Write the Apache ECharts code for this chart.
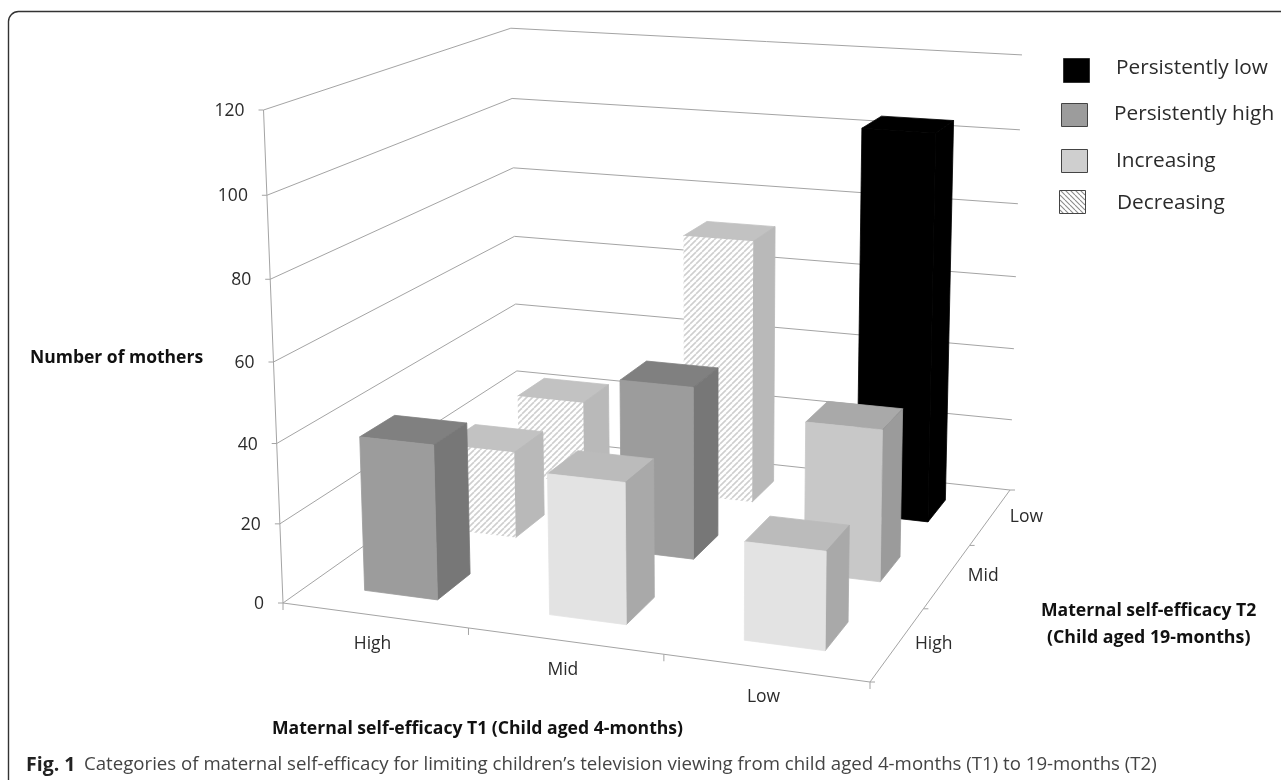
<!DOCTYPE html>
<html>
<head>
<meta charset="utf-8">
<style>html,body{margin:0;padding:0;background:#fff}#c{width:1281px;height:780px;filter:blur(0.4px)}</style>
<script src="https://cdn.jsdelivr.net/npm/echarts@6/dist/echarts.min.js"></script>
</head>
<body>
<div id="c"></div>
<script>
// ---- data: [T1 index, T2 index, number of mothers] ----
const t1Labels = ['High', 'Mid', 'Low'];
const t2Labels = ['High', 'Mid', 'Low'];
const yTicks = [0, 20, 40, 60, 80, 100, 120];
const persistentlyLow = [[2, 2, 104]];
const persistentlyHigh = [[0, 0, 39], [1, 1, 45]];
const increasing = [[1, 0, 35], [2, 0, 24], [2, 1, 39]];
const decreasing = [[0, 1, 23], [0, 2, 23], [1, 2, 72]];
const legendNames = ['Persistently low', 'Persistently high', 'Increasing', 'Decreasing'];
const yTitle = 'Number of mothers';
const t1Title = 'Maternal self-efficacy T1 (Child aged 4-months)';
const t2Title = ['Maternal self-efficacy T2', '(Child aged 19-months)'];
const captionBold = 'Fig. 1';
const captionText = 'Categories of maternal self-efficacy for limiting children\u2019s television viewing from child aged 4-months (T1) to 19-months (T2)';

// ---- perspective camera: floor corners on screen + vertical vector ----
const FL = [283, 603], FR = [870, 682], BR = [1010, 490], BL = [518, 437];
const VERT = [-31, -497.8, -0.0437];
const dx1 = FR[0] - BR[0], dy1 = FR[1] - BR[1], dx2 = BL[0] - BR[0], dy2 = BL[1] - BR[1];
const sx = FL[0] - FR[0] + BR[0] - BL[0], sy = FL[1] - FR[1] + BR[1] - BL[1];
const den = dx1 * dy2 - dx2 * dy1;
const pg = (sx * dy2 - dx2 * sy) / den, ph = (dx1 * sy - sx * dy1) / den;
const pa = FR[0] - FL[0] + pg * FR[0], pb = BL[0] - FL[0] + ph * BL[0];
const pd = FR[1] - FL[1] + pg * FR[1], pe = BL[1] - FL[1] + ph * BL[1];
const CELLS = t1Labels.length;

function heightOf(api, value) {
  const y0 = api.coord([0, 0])[1], y1 = api.coord([0, yTicks[yTicks.length - 1]])[1];
  return (y0 - api.coord([0, value])[1]) / (y0 - y1);
}
function project(U, V, H) {
  const u = U / CELLS, v = V / CELLS;
  const w = pg * u + ph * v + 1 + VERT[2] * H;
  return [(pa * u + pb * v + FL[0] + VERT[0] * H) / w, (pd * u + pe * v + FL[1] + VERT[1] * H) / w];
}

// ---- hatch patterns ----
function hatch(color, dir, size, lw) {
  const c = document.createElement('canvas');
  c.width = c.height = size;
  const g = c.getContext('2d');
  g.fillStyle = '#fff'; g.fillRect(0, 0, size, size);
  g.strokeStyle = color; g.lineWidth = lw;
  for (let k = -size; k <= size * 2; k += size) {
    g.beginPath();
    if (dir > 0) { g.moveTo(k, size); g.lineTo(k + size, 0); }
    else { g.moveTo(k, 0); g.lineTo(k + size, size); }
    g.stroke();
  }
  return { image: c, repeat: 'repeat' };
}
const hatchFront = hatch('#cfcfcf', 1, 6, 1.6);
const hatchLegend = hatch('#8a8a8a', -1, 5, 1.1);

const FONT = '"Open Sans","Noto Sans",sans-serif';
const LABEL_COLOR = '#2b2b2b';
const GRID_COLOR = '#a4a4a4';

// faces per legend entry, by T2 row for the two-tone "Increasing"
const faces = {
  low: () => ({ front: '#000000', side: '#000000', top: '#000000' }),
  high: () => ({ front: '#9c9c9c', side: '#777777', top: '#808080' }),
  inc: (V) => V === 0 ? { front: '#e3e3e3', side: '#a9a9a9', top: '#bbbbbb' }
                      : { front: '#c8c8c8', side: '#9b9b9b', top: '#a9a9a9' },
  dec: () => ({ front: hatchFront, side: '#b9b9b9', top: '#c2c2c2' })
};

function barRenderer(kind) {
  return function (params, api) {
    const i = api.value(0), j = api.value(1), H = heightOf(api, api.value(2));
    const c = faces[kind](j);
    const L = i + 0.3, R = i + 0.7, F = j + 0.3, B = j + 0.7;
    const z = 100 + (CELLS - j) * 10;
    const poly = (pts, fill, dz) => ({
      type: 'polygon', z2: z + dz,
      shape: { points: pts },
      style: typeof fill === 'string' ? { fill, stroke: fill, lineWidth: 0.8 } : { fill }
    });
    return {
      type: 'group',
      children: [
        poly([project(L, B, H), project(R, B, H), project(R, F, H), project(L, F, H)], c.top, 1),
        poly([project(R, F, 0), project(R, B, 0), project(R, B, H), project(R, F, H)], c.side, 1),
        poly([project(L, F, 0), project(R, F, 0), project(R, F, H), project(L, F, H)], c.front, 2)
      ]
    };
  };
}

function line(a, b, color, width) {
  return { type: 'line', z2: 5, shape: { x1: a[0], y1: a[1], x2: b[0], y2: b[1] },
           style: { stroke: color || GRID_COLOR, lineWidth: width || 1 } };
}
function txt(str, x, y, align, font, color) {
  return { type: 'text', z2: 6, style: { text: str, x, y, textAlign: align, textVerticalAlign: 'middle',
           font: font || ('17.5px ' + FONT), fill: color || LABEL_COLOR } };
}

function renderGrid(params, api) {
  const value = api.value(2), H = heightOf(api, value);
  const a = project(0, 0, H), b = project(0, CELLS, H), c = project(CELLS, CELLS, H);
  const kids = [
    { type: 'polyline', z2: 5, shape: { points: [a, b, c] }, style: { stroke: GRID_COLOR, lineWidth: 1, fill: 'none' } },
    line([a[0] - 5, a[1]], a),
    txt(String(value), a[0] - 19, a[1] + 1, 'right')
  ];
  if (params.dataIndex === 0) kids.push(line(a, project(0, 0, 1)));
  return { type: 'group', children: kids };
}
function renderT1(params, api) {
  const U = api.value(0), a = project(U, 0, 0);
  const kids = [line(a, [a[0], a[1] + 7])];
  if (U < CELLS) {
    kids.push(line(a, project(U + 1, 0, 0)));
    const m = project(U + 0.5, 0, 0);
    kids.push(txt(t1Labels[U], m[0] - 2, m[1] + 29, 'center'));
  }
  return { type: 'group', children: kids };
}
function renderT2(params, api) {
  const V = api.value(1), a = project(CELLS, V, 0);
  const kids = [line(a, [a[0] + 5, a[1]])];
  if (V < CELLS) {
    kids.push(line(a, project(CELLS, V + 1, 0)));
    const m = project(CELLS, V + 0.5, 0);
    kids.push(txt(t2Labels[V], m[0] + 36, m[1], 'center'));
  }
  return { type: 'group', children: kids };
}

function customSeries(name, data, renderItem) {
  return { type: 'custom', name, data, renderItem, silent: true, clip: false,
           encode: { x: 0, y: 2 }, animation: false };
}

const boundaries = [0, 1, 2, 3];
const legendY = [
  { name: legendNames[0], box: [1063, 58, 26, 24], tx: 1116, ty: 68, fill: '#000000', stroke: '#333' },
  { name: legendNames[1], box: [1061, 103, 26, 23], tx: 1114, ty: 114, fill: '#9c9c9c', stroke: '#444' },
  { name: legendNames[2], box: [1061, 149, 26, 23], tx: 1116, ty: 161, fill: '#cfcfcf', stroke: '#444' },
  { name: legendNames[3], box: [1059, 190, 26, 23], tx: 1117, ty: 203, fill: hatchLegend, stroke: '#444' }
];

const graphics = [
  { type: 'rect', silent: true, shape: { x: 8.5, y: 11.5, width: 1500, height: 1200, r: [10, 0, 0, 0] },
    style: { fill: 'none', stroke: '#333', lineWidth: 1.4 } }
];
legendY.forEach(l => {
  graphics.push({ type: 'rect', silent: true, shape: { x: l.box[0] + 0.5, y: l.box[1] + 0.5, width: l.box[2], height: l.box[3] },
    style: { fill: l.fill, stroke: l.stroke, lineWidth: 1 } });
  graphics.push({ type: 'text', silent: true, style: { text: l.name, x: l.tx, y: l.ty, textVerticalAlign: 'middle',
    font: '20.8px ' + FONT, fill: LABEL_COLOR } });
});
[[yTitle, 30, 358, 17.5], [t1Title, 272, 729, 17.6], [t2Title[0], 1041, 611, 17.6], [t2Title[1], 1047, 638, 17.8]].forEach(t => {
  graphics.push({ type: 'text', silent: true, style: { text: t[0], x: t[1], y: t[2], textVerticalAlign: 'middle',
    font: 'bold ' + t[3] + 'px ' + FONT, fill: '#111' } });
});
graphics.push({ type: 'text', silent: true, style: { text: captionBold, x: 26, y: 765, textVerticalAlign: 'middle',
  font: 'bold 19.5px ' + FONT, fill: '#222' } });
graphics.push({ type: 'text', silent: true, style: { text: captionText, x: 84, y: 765, textVerticalAlign: 'middle',
  font: '18.65px ' + FONT, fill: '#444' } });

const chart = echarts.init(document.getElementById('c'), null, { renderer: 'canvas' });
chart.setOption({
  animation: false,
  backgroundColor: '#ffffff',
  grid: { left: 262, right: 255, top: 110, bottom: 177 },
  xAxis: { type: 'category', data: t1Labels, show: false },
  yAxis: { type: 'value', min: 0, max: 120, interval: 20, show: false },
  graphic: graphics,
  series: [
    customSeries('gridlines', yTicks.map(v => [0, 0, v]), renderGrid),
    customSeries('T1 axis', boundaries.map(b => [b, 0, 0]), renderT1),
    customSeries('T2 axis', boundaries.map(b => [0, b, 0]), renderT2),
    customSeries(legendNames[0], persistentlyLow, barRenderer('low')),
    customSeries(legendNames[1], persistentlyHigh, barRenderer('high')),
    customSeries(legendNames[2], increasing, barRenderer('inc')),
    customSeries(legendNames[3], decreasing, barRenderer('dec'))
  ]
});
</script>
</body>
</html>
